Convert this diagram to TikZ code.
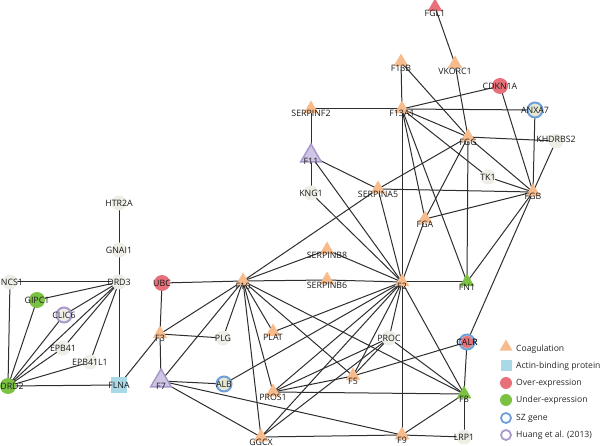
\documentclass[tikz,border=0pt]{standalone}
\usepackage{fontspec}
\setmainfont{Open Sans}
\usetikzlibrary{shapes.geometric}
\pgfdeclarelayer{bg}
\pgfsetlayers{bg,main}
\definecolor{coagc}{HTML}{F8BC8C}
\definecolor{overc}{HTML}{E8707A}
\definecolor{underc}{HTML}{7CC242}
\definecolor{szc}{HTML}{6E9FD8}
\definecolor{huangc}{HTML}{A898CC}
\definecolor{lavc}{HTML}{CFC6E6}
\definecolor{greyc}{HTML}{EEEEE6}
\definecolor{szfill}{HTML}{E4E8D4}
\definecolor{actc}{HTML}{A9D8E6}
\definecolor{edgec}{HTML}{2E2E2E}
\tikzset{
  lbl/.style={font=\fontsize{8.8}{10}\selectfont, text=black!90, inner sep=0pt},
  tri/.style={regular polygon, regular polygon sides=3, minimum size=17pt, inner sep=0pt, fill=coagc},
  tribig/.style={regular polygon, regular polygon sides=3, minimum size=24pt, inner sep=0pt, fill=lavc, draw=huangc, line width=1.5pt},
  trired/.style={tri, fill=overc},
  trigreen/.style={tri, fill=underc},
  gnode/.style={circle, minimum size=15pt, inner sep=0pt, fill=greyc},
  rnode/.style={circle, minimum size=16pt, inner sep=0pt, fill=overc},
  grnode/.style={circle, minimum size=16pt, inner sep=0pt, fill=underc},
  sznode/.style={circle, minimum size=15pt, inner sep=0pt, fill=szfill, draw=szc, line width=2pt},
  hunode/.style={circle, minimum size=15pt, inner sep=0pt, fill=greyc, draw=huangc, line width=2pt},
  sqnode/.style={rectangle, minimum size=16pt, inner sep=0pt, fill=actc},
  edge/.style={draw=edgec, line width=1pt},
  legtxt/.style={font=\fontsize{8.6}{10}\selectfont, text=black!85, anchor=west, inner sep=0pt},
}
\newcommand\nd[6]{\node[#1, label={[lbl,xshift=#5,yshift=#4]center:#6}] (#2) at (#3) {};}
\begin{document}
\begin{tikzpicture}[x=1pt, y=-1pt]
\useasboundingbox (0,0) rectangle (600,446);
% --- nodes ---
\nd{trired}{FGL1}{435,7}{-6pt}{0pt}{FGL1}
\nd{tri}{VKORC1}{455,64}{-7pt}{0pt}{VKORC1}
\nd{tri}{F13B}{401,62}{-6pt}{0pt}{F13B}
\nd{rnode}{CDKN1A}{500,86}{0pt}{0pt}{CDKN1A}
\nd{tri}{F13A1}{402,109}{-4pt}{0pt}{F13A1}
\nd{tri}{SERPINF2}{311,109}{-4pt}{0pt}{SERPINF2}
\nd{sznode}{ANXA7}{535,110}{0pt}{0pt}{ANXA7}
\nd{tri}{FGG}{468,137}{-5pt}{0pt}{FGG}
\nd{gnode}{KHDRBS2}{556,141}{2pt}{0pt}{KHDRBS2}
\nd{tribig}{F11}{311,156}{-5pt}{0pt}{F11}
\nd{gnode}{TK1}{488,177}{0pt}{0pt}{TK1}
\nd{gnode}{KNG1}{311,193}{0pt}{0pt}{KNG1}
\nd{tri}{SERPINA5}{378,189}{-5pt}{0pt}{SERPINA5}
\nd{tri}{FGB}{533,192}{-4pt}{0pt}{FGB}
\nd{tri}{FGA}{425,219}{-5pt}{0pt}{FGA}
\nd{gnode}{HTR2A}{119,203}{0pt}{0pt}{HTR2A}
\nd{gnode}{GNAI1}{119,250}{0pt}{0pt}{GNAI1}
\nd{gnode}{NCS1}{10,282}{0pt}{2pt}{NCS1}
\nd{gnode}{DRD3}{119,282}{0pt}{0pt}{DRD3}
\nd{grnode}{GIPC1}{37,300}{0pt}{0pt}{GIPC1}
\nd{hunode}{CLIC6}{64,315}{0pt}{0pt}{CLIC6}
\nd{rnode}{UBC}{162,283}{0pt}{0pt}{UBC}
\nd{tri}{F10}{243,281}{-5pt}{0pt}{F10}
\nd{tri}{SERPINB8}{327,250}{-5pt}{0pt}{SERPINB8}
\nd{tri}{SERPINB6}{327,280}{-5pt}{0pt}{SERPINB6}
\nd{tri}{F2}{402,282}{-4pt}{0pt}{F2}
\nd{trigreen}{FN1}{467,282}{-5pt}{0pt}{FN1}
\nd{gnode}{EPB41}{63,348}{0pt}{0pt}{EPB41}
\nd{gnode}{EPB41L1}{90,362}{0pt}{0pt}{EPB41L1}
\nd{tri}{F3}{160,334}{-4pt}{0pt}{F3}
\nd{gnode}{PLG}{223,338}{0pt}{0pt}{PLG}
\nd{tri}{PLAT}{273,332}{-5pt}{0pt}{PLAT}
\nd{gnode}{PROC}{389,338}{0pt}{0pt}{PROC}
\nd{sznode}{CALR}{467,342}{0pt}{0pt}{CALR}
\nd{grnode}{DRD2}{8,386}{0pt}{4pt}{DRD2}
\nd{sqnode}{FLNA}{119,385}{0pt}{0pt}{FLNA}
\nd{tribig}{F7}{161,381}{-5pt}{0pt}{F7}
\nd{sznode}{ALB}{224,384}{0pt}{0pt}{ALB}
\nd{tri}{PROS1}{273,392}{-5pt}{0pt}{PROS1}
\nd{tri}{F5}{353,376}{-5pt}{0pt}{F5}
\nd{trigreen}{F8}{464,394}{-5pt}{0pt}{F8}
\nd{tri}{GGCX}{261,437}{-5pt}{0pt}{GGCX}
\nd{tri}{F9}{402,435}{-5pt}{0pt}{F9}
\nd{gnode}{LRP1}{464,437}{0pt}{0pt}{LRP1}
\fill[overc] (CALR) circle (6pt);
\node[lbl] (CALRt) at (CALR) {CALR};
% --- edges ---
\begin{pgfonlayer}{bg}
\foreach \a/\b in {HTR2A/GNAI1, GNAI1/DRD3, NCS1/DRD3, NCS1/DRD2, DRD3/GIPC1, DRD3/CLIC6,
  DRD3/EPB41, DRD3/EPB41L1, DRD3/FLNA, DRD3/DRD2, DRD2/GIPC1, DRD2/CLIC6, DRD2/EPB41,
  DRD2/EPB41L1, DRD2/FLNA, FLNA/F3,
  UBC/F10, UBC/F3, F3/F10, F3/PLG, F3/F7, F7/F10, F7/ALB, F7/GGCX, F7/F9, ALB/F2,
  PLG/F10, F10/PLAT, F10/PROS1, F10/GGCX, F10/F5, F10/F8, F10/SERPINB8, F10/SERPINB6,
  SERPINB6/F2, F10/SERPINA5, SERPINA5/FGG, SERPINB8/F2, PLAT/F2, PROS1/F2, PROS1/F5,
  PROS1/PROC, PROS1/F8, GGCX/F2, GGCX/F9, GGCX/PROC, F2/F5, F2/PROC, F2/F8, F2/F9, F2/FN1,
  PROC/F5, PROC/F8, CALR/F5, CALR/F8, CALR/FGB, F8/LRP1, F8/F9, F9/LRP1,
  F11/SERPINF2, F11/KNG1, F11/SERPINA5, F11/F2, KNG1/F2, SERPINA5/F2, SERPINA5/FGB,
  FGA/F2, FGA/FGG, FGA/FGB, F13A1/FGA, F13A1/F2, F13A1/FN1, F13A1/TK1, TK1/FGB,
  F13A1/FGG, F13A1/SERPINF2, F13A1/ANXA7, F13A1/CDKN1A, F13A1/F13B, F13B/FGG,
  FGL1/VKORC1, VKORC1/FGG, CDKN1A/FGB, ANXA7/FGB, FGG/KHDRBS2, KHDRBS2/FGB, FGG/FGB,
  FGG/FN1, FGB/FN1}
  \draw[edge] (\a.center) -- (\b.center);
\end{pgfonlayer}
% --- legend ---
\node[regular polygon, regular polygon sides=3, minimum size=15pt, inner sep=0pt, fill=coagc] (L1) at (506,347) {};
\node[legtxt] (L1t) at (516,349) {Coagulation};
\node[rectangle, minimum size=11pt, inner sep=0pt, fill=actc] (L2) at (506,366) {};
\node[legtxt] (L2t) at (516,366) {Actin-binding protein};
\node[circle, minimum size=12pt, inner sep=0pt, fill=overc] (L3) at (506,383) {};
\node[legtxt] (L3t) at (516,383) {Over-expression};
\node[circle, minimum size=12pt, inner sep=0pt, fill=underc] (L4) at (506,400) {};
\node[legtxt] (L4t) at (516,400) {Under-expression};
\node[circle, minimum size=10pt, inner sep=0pt, draw=szc, line width=1.8pt] (L5) at (506,418) {};
\node[legtxt] (L5t) at (516,418) {SZ gene};
\node[circle, minimum size=10pt, inner sep=0pt, draw=huangc, line width=1.8pt] (L6) at (506,435) {};
\node[legtxt] (L6t) at (516,435) {Huang et al. (2013)};
\end{tikzpicture}
\end{document}
